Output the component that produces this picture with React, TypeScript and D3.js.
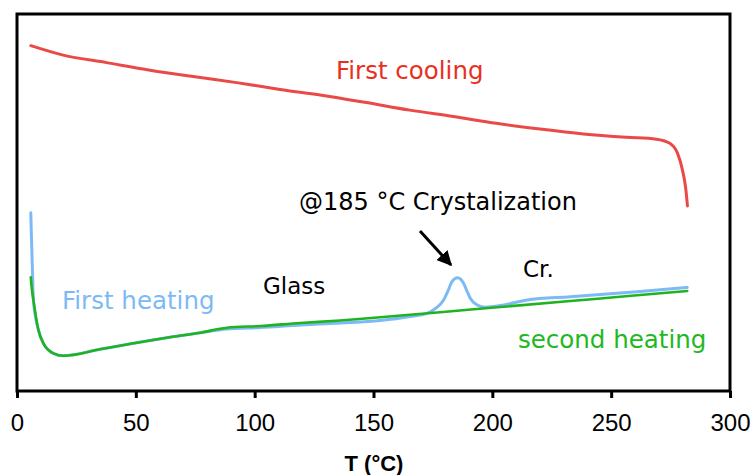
import React, { useEffect, useRef } from 'react';
import * as d3 from 'd3';

// DSC traces, T in °C, heat flow in arbitrary units (0-100 of plot height)
const coolingT = [5.8, 19.4, 37.7, 56.0, 74.1, 92.4, 110.7, 128.8, 147.0, 165.3, 183.6, 201.7, 220.0, 238.3, 256.4, 269.0, 274.5, 277.9, 280.0, 281.3, 282.1];
const coolingHF = [91.6, 89.1, 87.1, 85.1, 83.4, 81.8, 80.0, 78.4, 76.5, 74.5, 72.8, 71.0, 69.5, 68.2, 67.3, 66.8, 65.8, 63.1, 58.6, 54.1, 49.1];

const heating1T = [5.8, 6.1, 6.5, 6.9, 9.0, 11.1, 15.3, 19.5, 34.9, 49.0, 63.0, 77.1, 88.3, 102.3, 119.2, 136.0, 152.8, 165.5, 172.5, 176.4, 179.5, 181.5, 183.0, 185.4, 187.9, 189.5, 190.7, 193.6, 197.1, 204.8, 214.6, 232.8, 260.9, 282.0];
const heating1HF = [47.3, 40.1, 32.1, 24.1, 16.2, 12.65, 10.0, 9.36, 11.06, 12.65, 14.14, 15.46, 16.45, 16.84, 17.51, 18.04, 18.7, 19.76, 20.61, 22.02, 24.14, 26.79, 28.99, 30.05, 28.57, 26.26, 24.59, 22.81, 22.2, 22.81, 24.14, 25.01, 26.34, 27.45];

const heating2T = [5.8, 6.3, 6.9, 9.0, 11.1, 15.3, 19.5, 34.9, 49.0, 63.0, 77.1, 88.3, 102.3, 119.2, 136.0, 152.8, 178.1, 203.4, 232.8, 260.9, 282.0];
const heating2HF = [30.16, 26.79, 24.14, 16.18, 12.65, 10.0, 9.36, 11.06, 12.65, 14.14, 15.46, 16.79, 17.24, 18.04, 18.7, 19.55, 20.9, 22.28, 23.87, 25.38, 26.53];

const xTicks = [0, 50, 100, 150, 200, 250, 300];

const App = () => {
  const ref = useRef<SVGSVGElement>(null);

  useEffect(() => {
    const width = 754;
    const height = 475;
    const margin = { top: 14, right: 24, bottom: 84, left: 17 };

    const svg = d3.select(ref.current);
    svg.selectAll('*').remove();

    const x = d3.scaleLinear().domain([0, 300]).range([margin.left, width - margin.right]);
    const y = d3.scaleLinear().domain([0, 100]).range([height - margin.bottom, margin.top]);

    const line = d3
      .line<[number, number]>()
      .x((d) => x(d[0]))
      .y((d) => y(d[1]))
      .curve(d3.curveMonotoneX);

    const series = [
      { t: coolingT, v: coolingHF, color: '#ea4a47', w: 3 },
      { t: heating1T, v: heating1HF, color: '#7cbaf6', w: 3 },
      { t: heating2T, v: heating2HF, color: '#1fb41f', w: 2.6 },
    ];

    series.forEach((s) => {
      const pts: [number, number][] = s.t.map((t, i) => [t, s.v[i]]);
      svg
        .append('path')
        .attr('d', line(pts))
        .attr('fill', 'none')
        .attr('stroke', s.color)
        .attr('stroke-width', s.w)
        .attr('stroke-linejoin', 'round')
        .attr('stroke-linecap', 'round');
    });

    // frame
    svg
      .append('rect')
      .attr('x', x(0))
      .attr('y', y(100))
      .attr('width', x(300) - x(0))
      .attr('height', y(0) - y(100))
      .attr('fill', 'none')
      .attr('stroke', '#000')
      .attr('stroke-width', 3);

    // x axis
    const axis = svg
      .append('g')
      .attr('transform', `translate(0,${y(0)})`)
      .call(d3.axisBottom(x).tickValues(xTicks).tickSize(7).tickPadding(16).tickFormat(d3.format('d')));
    axis.select('.domain').remove();
    axis.selectAll('.tick line').attr('stroke', '#000').attr('stroke-width', 3);
    axis
      .selectAll('.tick text')
      .attr('fill', '#000')
      .attr('font-family', '"Liberation Sans", Arial, sans-serif')
      .attr('font-size', 24);

    svg
      .append('text')
      .attr('x', 374)
      .attr('y', 471)
      .attr('text-anchor', 'middle')
      .attr('font-family', '"Liberation Sans", Arial, sans-serif')
      .attr('font-weight', 'bold')
      .attr('font-size', 22)
      .text('T (°C)');

    // annotations
    const font = '"DejaVu Sans", sans-serif';
    const labels = [
      { text: 'First cooling', x: 336, y: 79, color: '#e8301f', size: 24.5 },
      { text: '@185 °C Crystalization', x: 299, y: 210, color: '#000', size: 24 },
      { text: 'Glass', x: 263, y: 294, color: '#000', size: 23 },
      { text: 'Cr.', x: 523, y: 277, color: '#000', size: 23 },
      { text: 'First heating', x: 62, y: 309, color: '#7cbaf6', size: 24.5 },
      { text: 'second heating', x: 518, y: 348, color: '#22b822', size: 24.5 },
    ];
    labels.forEach((l) =>
      svg
        .append('text')
        .attr('x', l.x)
        .attr('y', l.y)
        .attr('fill', l.color)
        .attr('font-family', font)
        .attr('font-size', l.size)
        .text(l.text)
    );

    // arrow to crystallization peak
    svg
      .append('defs')
      .append('marker')
      .attr('id', 'head')
      .attr('viewBox', '0 0 10 10')
      .attr('refX', 9)
      .attr('refY', 5)
      .attr('markerWidth', 5)
      .attr('markerHeight', 5)
      .attr('markerUnits', 'strokeWidth')
      .attr('orient', 'auto')
      .append('path')
      .attr('d', 'M0,0 L10,5 L0,10 Z')
      .attr('fill', '#000');

    svg
      .append('line')
      .attr('x1', 420)
      .attr('y1', 231)
      .attr('x2', 451)
      .attr('y2', 265)
      .attr('stroke', '#000')
      .attr('stroke-width', 3)
      .attr('marker-end', 'url(#head)');
  }, []);

  return (
    <svg
      ref={ref}
      width={754}
      height={475}
      style={{ position: 'absolute', left: 0, top: 0, background: '#fff' }}
    />
  );
};

export default App;
